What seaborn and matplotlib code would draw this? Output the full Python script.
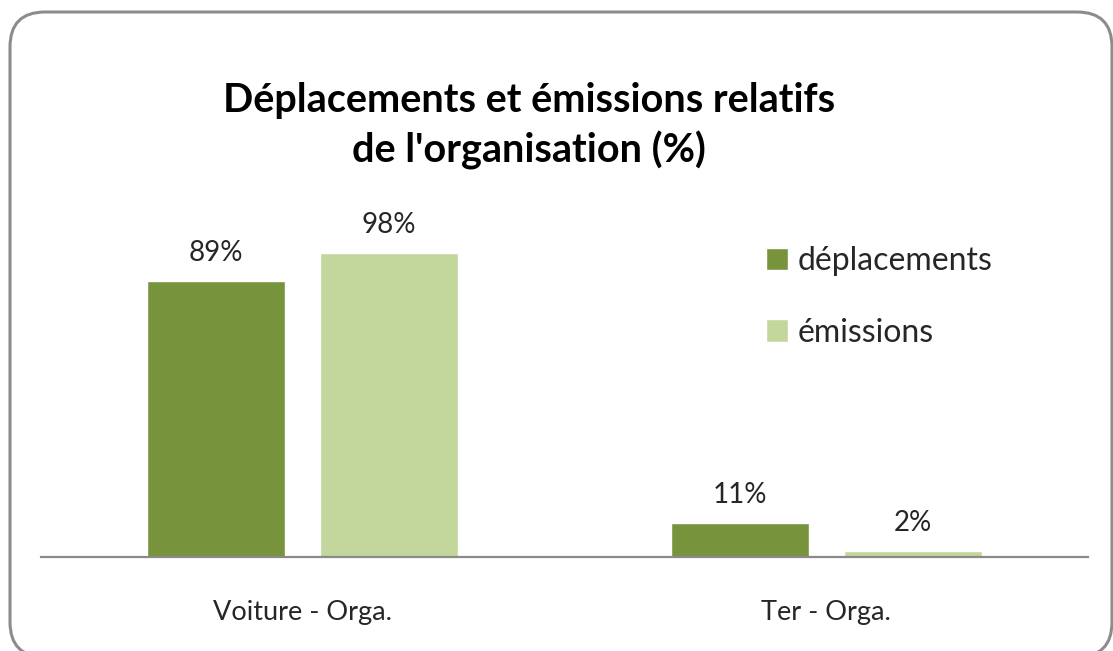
import matplotlib
matplotlib.use('Agg')
import matplotlib.pyplot as plt
import seaborn as sns
import pandas as pd
from matplotlib.patches import FancyBboxPatch

# data
categories = ['Voiture - Orga.', 'Ter - Orga.']
series = ['déplacements', 'émissions']
deplacements = [89, 11]
emissions = [98, 2]
colors = ['#77933C', '#C3D69B']

df = pd.DataFrame({
    'categorie': categories * 2,
    'serie': [series[0]] * len(categories) + [series[1]] * len(categories),
    'valeur': deplacements + emissions,
})

sns.set_theme(style='white')
plt.rcParams['font.family'] = ['Lato', 'DejaVu Sans']

W, H = 1113, 651
fig = plt.figure(figsize=(W / 100, H / 100), dpi=100)
fig.patch.set_facecolor('white')

ax = fig.add_axes([41 / W, 1 - 557 / H, 1047 / W, 341 / H])
sns.barplot(data=df, x='categorie', y='valeur', hue='serie', palette=colors,
            saturation=1, width=0.66, gap=0.2, ax=ax)

### data labels
for cont, vals in zip(ax.containers, [deplacements, emissions]):
    ax.bar_label(cont, labels=[f'{v}%' for v in vals], padding=11,
                 fontsize=20, color='#262626')

ax.set_xlim(-0.5, 1.5)
ax.set_ylim(0, 110)
ax.set_xlabel('')
ax.set_ylabel('')
ax.set_yticks([])
ax.tick_params(axis='x', length=0, pad=31, labelsize=19.5, labelcolor='#262626')
for s in ['left', 'right', 'top']:
    ax.spines[s].set_visible(False)
ax.spines['bottom'].set_color('#8a8a8a')
ax.spines['bottom'].set_linewidth(1.6)

### legend
leg = ax.legend(loc='upper left', bbox_to_anchor=(766 / W, 1 - 246 / H),
                bbox_transform=fig.transFigure, frameon=False, fontsize=23,
                handlelength=0.7, handleheight=0.7, handletextpad=0.3,
                labelspacing=1.3, borderpad=0, borderaxespad=0)
for t in leg.get_texts():
    t.set_color('#262626')

### title
fig.text(529 / W, 1 - 126 / H, "Déplacements et émissions relatifs\nde l'organisation (%)",
         ha='center', va='center', ma='center', fontsize=28.5, fontweight='bold',
         linespacing=1.4, color='black')

### rounded frame
frame = FancyBboxPatch((0.10, -0.06), 11.02, 6.45,
                       boxstyle='round,pad=0,rounding_size=0.35',
                       transform=fig.dpi_scale_trans, facecolor='none',
                       edgecolor='#8c8c8c', linewidth=2.2)
fig.add_artist(frame)

fig.savefig('out.png', dpi=100)
